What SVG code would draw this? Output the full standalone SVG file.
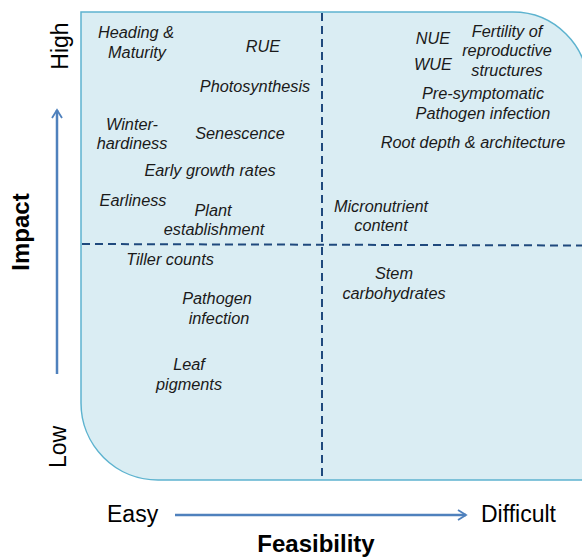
<svg xmlns="http://www.w3.org/2000/svg" width="582" height="558" viewBox="0 0 582 558">
<defs>
<style>
.lbl{font-family:"Liberation Sans",Arial,sans-serif;font-style:italic;font-size:16.3px;fill:#1a1a1a;text-anchor:middle}
.ax{font-family:"Liberation Sans",Arial,sans-serif;font-size:23px;fill:#000}
.axb{font-family:"Liberation Sans",Arial,sans-serif;font-size:24px;font-weight:bold;fill:#000;text-anchor:middle}
.dash{stroke:#1F497D;stroke-width:2;stroke-dasharray:8,5;fill:none}
.arr{stroke:#4F81BD;stroke-width:2.5;fill:none}
</style>
<marker id="ah" markerWidth="12" markerHeight="12" refX="9" refY="6" orient="auto" markerUnits="userSpaceOnUse">
<path d="M1,1 L9,6 L1,11" fill="none" stroke="#4F81BD" stroke-width="1.8"/>
</marker>
</defs>
<rect width="582" height="558" fill="#ffffff"/>
<g id="quadrant">
<path d="M81,12 H513 A75,75 0 0 1 588,87 V480 H158 A77,77 0 0 1 81,403 Z" fill="#DAEDF3" stroke="#5DB3CF" stroke-width="1.5"/>
</g>
<g id="connectors">
<line class="dash" x1="322" y1="13" x2="322" y2="480"/>
<line class="dash" x1="82" y1="244" x2="582" y2="245.5"/>
<line class="arr" x1="57" y1="374" x2="57" y2="110" marker-end="url(#ah)"/>
<line class="arr" x1="175" y1="515" x2="466" y2="515" marker-end="url(#ah)"/>
</g>
<g id="axis-labels">
<text class="ax" text-anchor="middle" transform="translate(68,46) rotate(-90)">High</text>
<text class="ax" text-anchor="middle" transform="translate(66,447) rotate(-90)">Low</text>
<text class="axb" transform="translate(29,232) rotate(-90)">Impact</text>
<text class="ax" x="107" y="522">Easy</text>
<text class="ax" x="481" y="522">Difficult</text>
<text class="axb" x="316" y="552">Feasibility</text>
</g>
<g id="heading-maturity"><text class="lbl" x="136" y="38">Heading &amp;</text><text class="lbl" x="137" y="58">Maturity</text></g>
<g id="rue"><text class="lbl" x="263" y="52">RUE</text></g>
<g id="photosynthesis"><text class="lbl" x="255" y="92">Photosynthesis</text></g>
<g id="winter-hardiness"><text class="lbl" x="132" y="130">Winter-</text><text class="lbl" x="132" y="149">hardiness</text></g>
<g id="senescence"><text class="lbl" x="240" y="139">Senescence</text></g>
<g id="early-growth"><text class="lbl" x="210" y="176">Early growth rates</text></g>
<g id="earliness"><text class="lbl" x="133" y="206">Earliness</text></g>
<g id="plant-establishment"><text class="lbl" x="213" y="216">Plant</text><text class="lbl" x="214" y="235">establishment</text></g>
<g id="tiller-counts"><text class="lbl" x="170" y="265">Tiller counts</text></g>
<g id="pathogen-infection"><text class="lbl" x="217" y="304">Pathogen</text><text class="lbl" x="219" y="324">infection</text></g>
<g id="leaf-pigments"><text class="lbl" x="189" y="370">Leaf</text><text class="lbl" x="189" y="390">pigments</text></g>
<g id="nue"><text class="lbl" x="433" y="44">NUE</text></g>
<g id="wue"><text class="lbl" x="433" y="70">WUE</text></g>
<g id="fertility"><text class="lbl" x="507" y="37">Fertility of</text><text class="lbl" x="507" y="56">reproductive</text><text class="lbl" x="507" y="76">structures</text></g>
<g id="pre-symptomatic"><text class="lbl" x="483" y="99">Pre-symptomatic</text><text class="lbl" x="483" y="119">Pathogen infection</text></g>
<g id="root-depth"><text class="lbl" x="473" y="148">Root depth &amp; architecture</text></g>
<g id="micronutrient"><text class="lbl" x="381" y="212">Micronutrient</text><text class="lbl" x="381" y="231">content</text></g>
<g id="stem-carbohydrates"><text class="lbl" x="394" y="279">Stem</text><text class="lbl" x="394" y="299">carbohydrates</text></g>
</svg>
